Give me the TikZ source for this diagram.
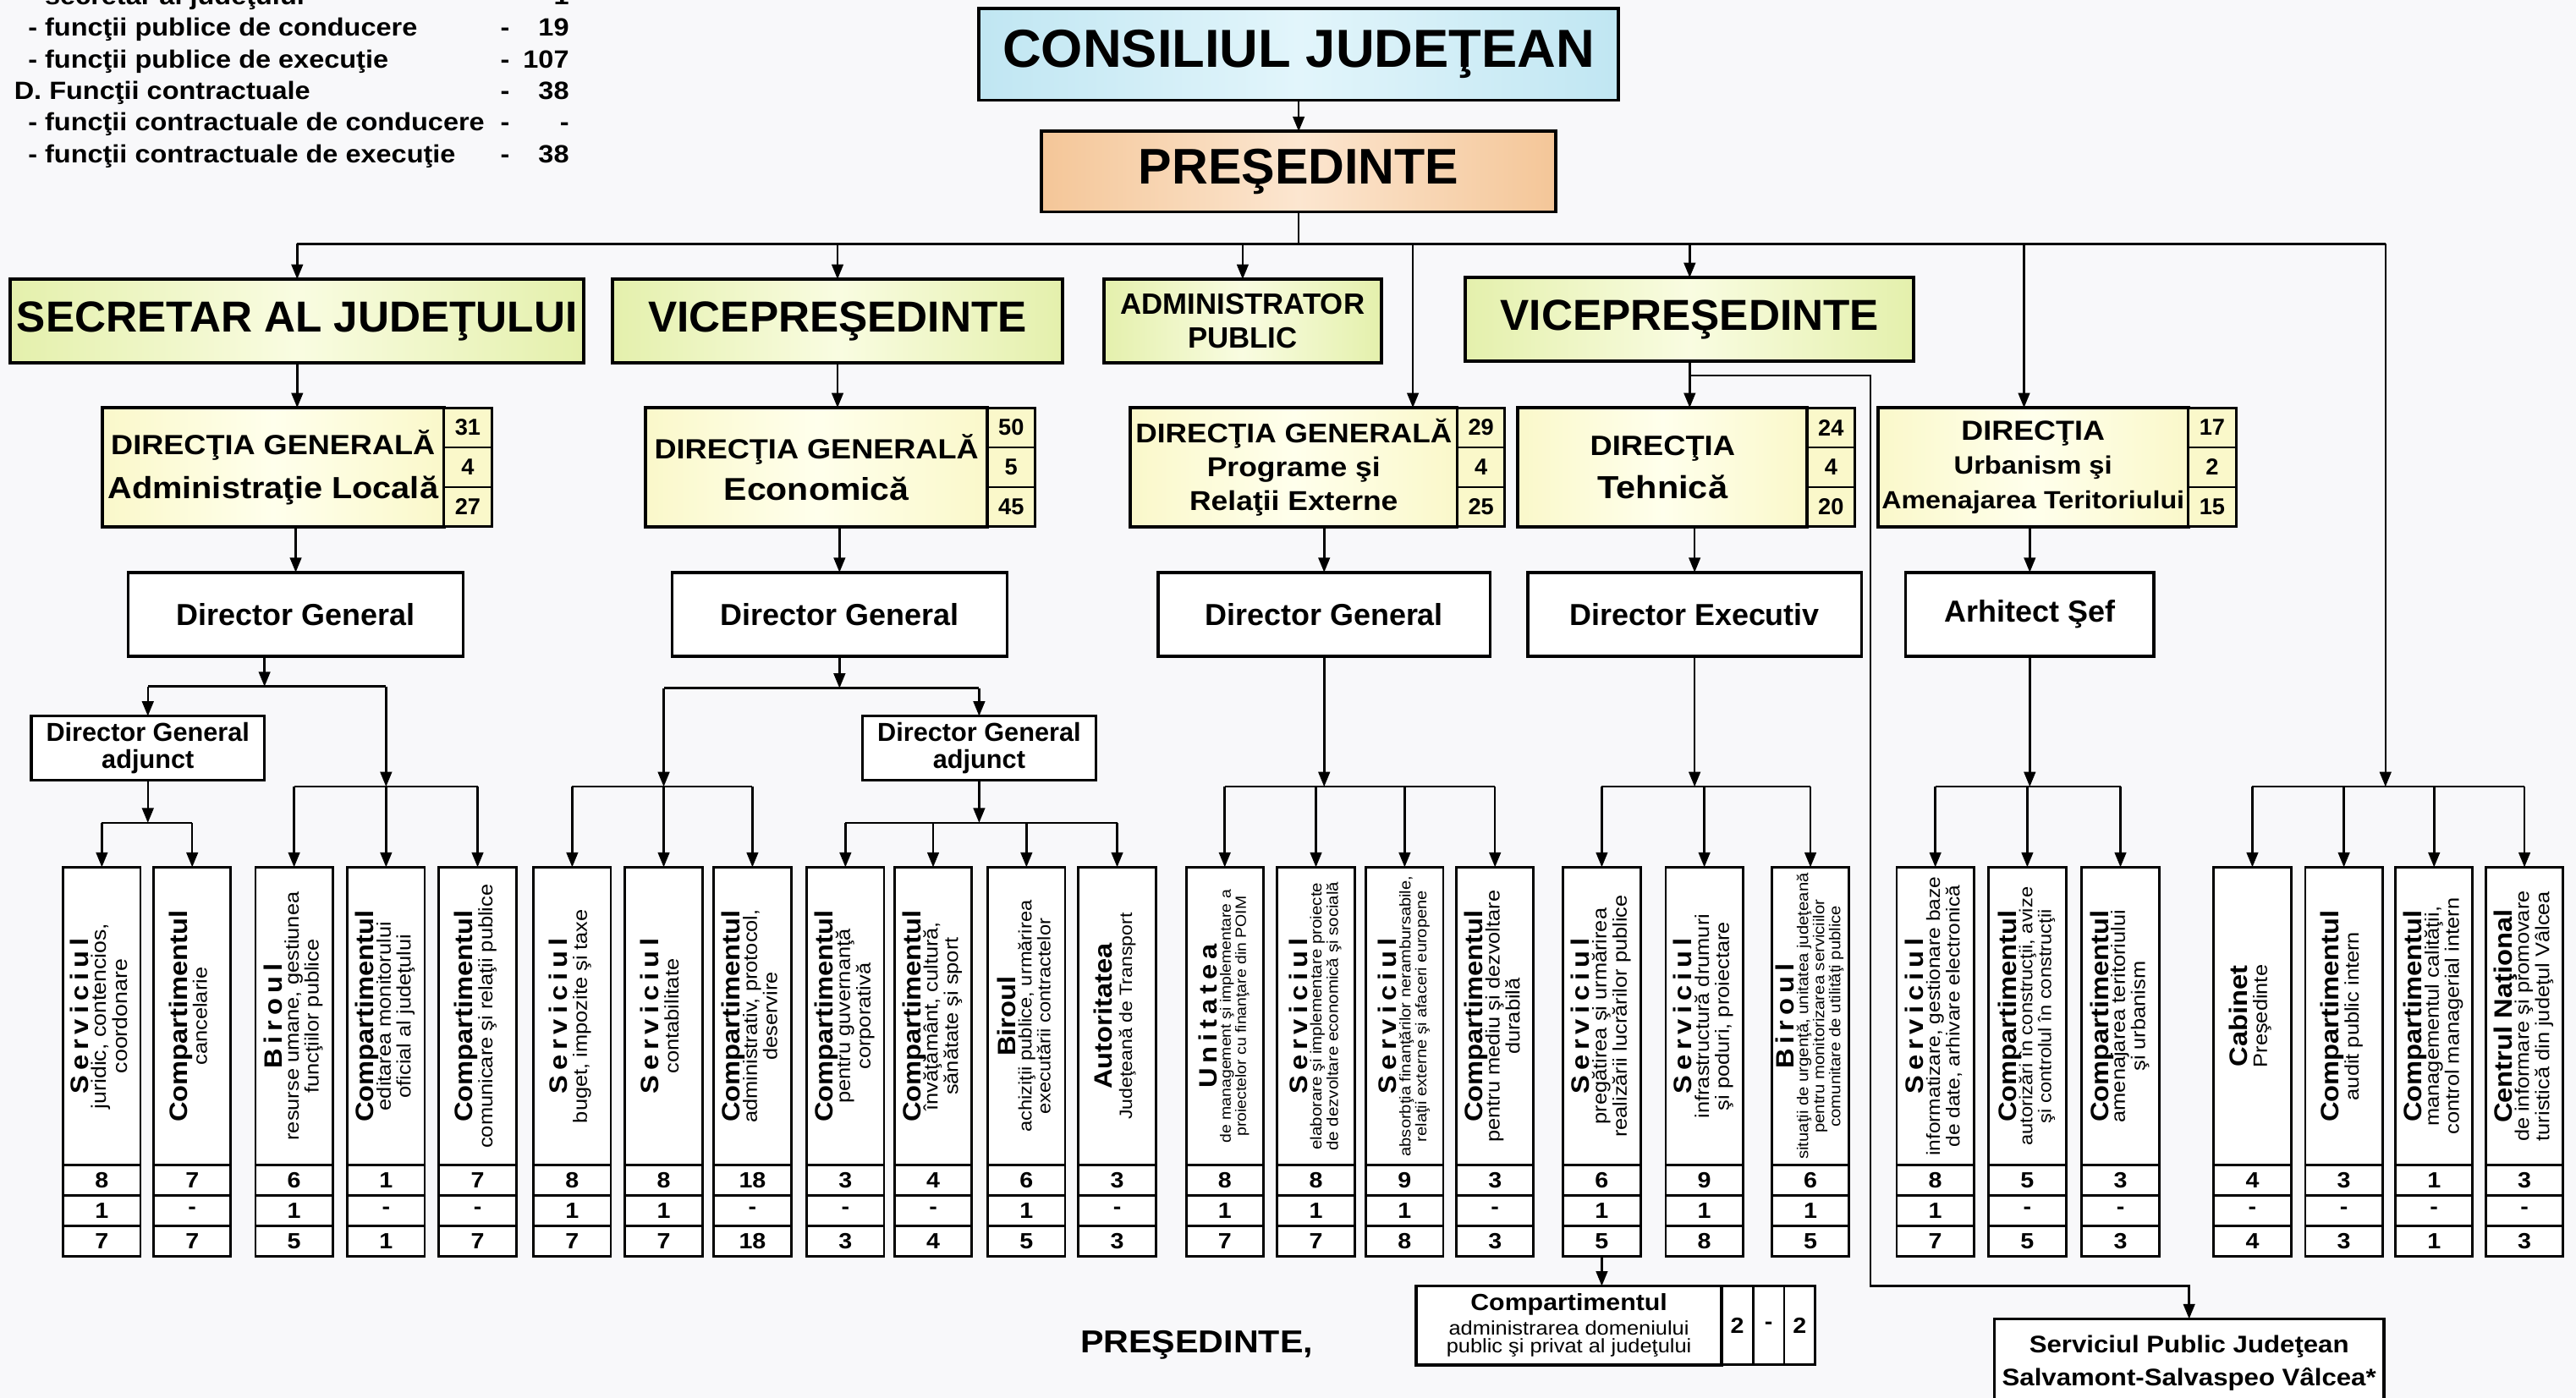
\documentclass[tikz,border=0pt]{standalone}
\usepackage{fontspec}
\setmainfont{Liberation Sans}
\newfontfamily\widefont[FakeStretch=1.1]{Liberation Sans}
\usepackage{graphicx}
\usetikzlibrary{positioning,arrows.meta}

\definecolor{paper}{RGB}{248,248,250}
\definecolor{cjblue}{RGB}{192,230,242}
\definecolor{cjlight}{RGB}{226,245,251}
\definecolor{prpeach}{RGB}{244,198,152}
\definecolor{prlight}{RGB}{252,230,208}
\definecolor{vplime}{RGB}{228,240,172}
\definecolor{vplight}{RGB}{249,252,225}
\definecolor{dgcream}{RGB}{250,248,202}
\definecolor{dglight}{RGB}{255,255,236}

\newcommand\fsz[1]{\fontsize{#1}{#1}\selectfont}
\newcommand\spc[1]{{\addfontfeature{LetterSpace=20}#1}}

\tikzset{%
	box/.style={draw, line width=2pt, outer sep=0pt, inner sep=1pt, align=center},
	box-council/.style={box, left color=cjblue, right color=cjblue, middle color=cjlight,
		minimum width=389pt, minimum height=56pt, font=\bfseries\fsz{32.6}},
	box-president/.style={box, left color=prpeach, right color=prpeach, middle color=prlight,
		minimum width=313pt, minimum height=49pt, font=\bfseries\fsz{30.5}},
	box-lead/.style={box, left color=vplime, right color=vplime, middle color=vplight,
		minimum height=51pt, font=\bfseries\fsz{26.4}},
	box-dir/.style={box, left color=dgcream, right color=dgcream, middle color=dglight,
		minimum height=72.5pt},
	dir-num/.style={box, line width=1.5pt, fill=dgcream, minimum width=29pt,
		minimum height=24.17pt, font=\bfseries\fsz{14}},
	box-head/.style={box, line width=1.8pt, fill=white, minimum height=51pt,
		font=\bfseries\fontsize{18.5}{20}\selectfont},
	box-deputy/.style={box, line width=1.8pt, fill=white, minimum width=142pt,
		minimum height=39pt, font=\bfseries\fontsize{15.8}{16.3}\selectfont},
	dept/.style={draw, line width=1.5pt, outer sep=0pt, inner sep=0pt, fill=white,
		minimum width=47pt, minimum height=181.5pt, font=\widefont\fontsize{15.3}{15.5}\selectfont},
	dept-num/.style={dept, minimum height=18.5pt, font=\widefont\bfseries\fsz{13.4}},
	sum-line/.style={inner sep=0pt, font=\widefont\bfseries\fsz{15.2}},
}

\begin{document}
\begin{tikzpicture}[x=1pt, y=-1pt, line width=1.3pt, >={Triangle[length=9pt,width=7pt]}]
\useasboundingbox (0,0) rectangle (1568,851);
\fill[paper] (0,0) rectangle (1568,851);

% staff summary
\foreach \ind/\txt/\num [count=\i from 0] in {16.5/{- secretar al judeţului}/1,
	16.5/{- funcţii publice de conducere}/19, 16.5/{- funcţii publice de execuţie}/107,
	8/{D. Funcţii contractuale}/38, 16.5/{- funcţii contractuale de conducere}/-,
	16.5/{- funcţii contractuale de execuţie}/38}
{
	\node[sum-line, anchor=base west] (sum-\i) at (\ind, 2.6+19.3*\i) {\txt};
	\node[sum-line, anchor=base west] (dash-\i) at (304, 2.6+19.3*\i) {-};
	\node[sum-line, anchor=base east] (cnt-\i) at (347, 2.6+19.3*\i) {\num};
}

% council and president
\node[box-council] (cons) at (790.5,33) {CONSILIUL JUDEŢEAN};
\node[box-president] (pres) at (790.5,104.5) {PREŞEDINTE};

% leadership
\node[box-lead, minimum width=349pt] (sec) at (180.9,195.5) {SECRETAR AL JUDEŢULUI};
\node[box-lead, minimum width=274pt] (vice1) at (509.8,195.5) {VICEPREŞEDINTE};
\node[box-lead, minimum width=169pt, font=\bfseries\fontsize{17.9}{20.3}\selectfont] (admin)
	at (756.4,195.5) {ADMINISTRATOR\\PUBLIC};
\node[box-lead, minimum width=273pt] (vice2) at (1028.5,194.5) {VICEPREŞEDINTE};

% directorates
\node[box-dir, minimum width=208pt, font=\widefont\bfseries\fontsize{17}{27}\selectfont] (dg1)
	at (166.2,284.5) {{\fsz{16.9}DIRECŢIA GENERALĂ}\\{\fsz{18.6}Administraţie Locală}};
\node[box-dir, minimum width=208pt, font=\widefont\bfseries\fontsize{17}{25}\selectfont] (dg2)
	at (497,284.5) {{\fsz{16.9}DIRECŢIA GENERALĂ}\\{\fsz{19.2}Economică}};
\node[box-dir, minimum width=199pt, font=\widefont\bfseries\fontsize{16.6}{20.5}\selectfont] (dg3)
	at (787.5,284.5) {{\fsz{16.5}DIRECŢIA GENERALĂ}\\Programe şi\\Relaţii Externe};
\node[box-dir, minimum width=176pt, font=\widefont\bfseries\fontsize{17}{26}\selectfont] (dgt)
	at (1012,284.5) {DIRECŢIA\\{\fsz{19.4}Tehnică}};
\node[box-dir, minimum width=189pt, font=\widefont\bfseries\fontsize{15.3}{21}\selectfont] (dgu)
	at (1237.5,284.5) {{\fsz{16.8}DIRECŢIA}\\Urbanism şi\\{\fsz{15.1}Amenajarea Teritoriului}};
\foreach \d/\a/\b/\c in {dg1/31/4/27, dg2/50/5/45, dg3/29/4/25, dgt/24/4/20, dgu/17/2/15}
{
	\node[dir-num, anchor=north west] (\d-a) at (\d.north east) {\a};
	\node[dir-num, below=0pt of \d-a] (\d-b) {\b};
	\node[dir-num, below=0pt of \d-b] (\d-c) {\c};
}

% heads
\node[box-head, minimum width=204pt] (dir1) at (180,374) {Director General};
\node[box-head, minimum width=204pt] (dir2) at (511,374) {Director General};
\node[box-head, minimum width=202pt] (dir3) at (806,374) {Director General};
\node[box-head, minimum width=203pt] (dir4) at (1031.5,374) {Director Executiv};
\node[box-head, minimum width=151pt] (dir5) at (1235.5,374) {Arhitect Şef};
\node[box-deputy] (dga1) at (90,455.5) {Director General\\adjunct};
\node[box-deputy] (dga2) at (596,455.5) {Director General\\adjunct};

% departments
\foreach \nm/\x/\ttl/\dsc/\sz/\na/\nb/\nc in {
	s1/62/{\spc{Serviciul}}/{juridic, contencios,\\coordonare}/12.5/8/1/7,
	s2/117/Compartimentul/cancelarie/11.9/7/-/7,
	s3/179/{\spc{Biroul}}/{resurse umane, gestiunea\\funcţiilor publice}/11.9/6/1/5,
	s4/235/Compartimentul/{editarea monitorului\\oficial al judeţului}/11.9/1/-/1,
	s5/290.7/Compartimentul/{comunicare şi relaţii publice}/11.9/7/-/7,
	s6/348.3/{\spc{Serviciul}}/{buget, impozite şi taxe}/11.9/8/1/7,
	s7/404/{\spc{Serviciul}}/contabilitate/11.9/8/1/7,
	s8/458/Compartimentul/{administrativ, protocol,\\deservire}/11.9/18/-/18,
	s9/514.6/Compartimentul/{pentru guvernanţă\\corporativă}/11.9/3/-/3,
	s10/568/Compartimentul/{învăţământ, cultură,\\sănătate şi sport}/11.9/4/-/4,
	s11/624.8/Biroul/{achiziţii publice, urmărirea\\executării contractelor}/11.1/6/1/5,
	s12/680/Autoritatea/{Judeţeană de Transport}/10.8/3/-/3,
	s13/745.5/{\spc{Unitatea}}/{de management şi implementare a\\proiectelor cu finanţare din POIM}/9.1/8/1/7,
	s14/801/{\spc{Serviciul}}/{elaborare şi implementare proiecte\\de dezvoltare economică şi socială}/9.6/8/1/7,
	s15/855/{\spc{Serviciul}}/{absorbţia finanţărilor nerambursabile,\\relaţii externe şi afaceri europene}/9.4/9/1/8,
	s16/910/Compartimentul/{pentru mediu şi dezvoltare\\durabilă}/11.9/3/-/3,
	s17/975/{\spc{Serviciul}}/{pregătirea şi urmărirea\\realizării lucrărilor publice}/11.9/6/1/5,
	s18/1037.4/{\spc{Serviciul}}/{infrastructură drumuri\\şi poduri, proiectare}/11.9/9/1/8,
	s19/1102/{\spc{Biroul}}/{situaţii de urgenţă, unitatea judeţeană\\pentru monitorizarea serviciilor\\comunitare de utilităţi publice}/9.5/6/1/5,
	s20/1178/{\spc{Serviciul}}/{informatizare, gestionare baze\\de date, arhivare electronică}/11.5/8/1/7,
	s21/1234/Compartimentul/{autorizări în construcţii, avize\\şi controlul în construcţii}/11.1/5/-/5,
	s22/1290.7/Compartimentul/{amenajarea teritoriului\\şi urbanism}/11.9/3/-/3,
	s23/1371/Cabinet/Preşedinte/11.9/4/-/4,
	s24/1426.7/Compartimentul/{audit public intern}/11.9/3/-/3,
	s25/1481.6/Compartimentul/{managementul calităţii,\\control managerial intern}/11.9/1/-/1,
	s26/1536.6/{Centrul Naţional}/{de informare şi promovare\\turistică din judeţul Vâlcea}/11.9/3/-/3}
{
	\node[dept] (\nm) at (\x,618.75) {\rotatebox{90}{\begin{tabular}{@{}c@{}}\bfseries\ttl\\[-3pt]%
		\fontsize{\sz}{\sz}\selectfont\begin{tabular}{@{}c@{}}\dsc\end{tabular}\end{tabular}}};
	\node[dept-num, below=0pt of \nm] (\nm-a) {\na};
	\node[dept-num, below=0pt of \nm-a] (\nm-b) {\nb};
	\node[dept-num, below=0pt of \nm-b] (\nm-c) {\nc};
}

% bottom boxes
\node[box, line width=1.8pt, fill=white, minimum width=186pt, minimum height=48pt,
	font=\widefont\fontsize{11.9}{11.2}\selectfont] (adm) at (955,807)
	{{\bfseries\fsz{14.2}Compartimentul}\\[2pt]administrarea domeniului\\public şi privat al judeţului};
\node[dept-num, minimum width=19pt, minimum height=48pt, anchor=north west] (adm-a) at (adm.north east) {2};
\node[dept-num, minimum width=19pt, minimum height=48pt, right=0pt of adm-a] (adm-b) {-};
\node[dept-num, minimum width=19pt, minimum height=48pt, right=0pt of adm-b] (adm-c) {2};
\node[box, line width=1.8pt, fill=white, minimum width=237pt, minimum height=54pt,
	font=\widefont\bfseries\fontsize{14.6}{20}\selectfont] (salv) at (1332.5,830)
	{Serviciul Public Judeţean\\Salvamont-Salvaspeo Vâlcea*};
\node[inner sep=0pt, anchor=west, font=\widefont\bfseries\fsz{19.3}] (sign) at (657,818.7) {PREŞEDINTE,};

% connections
\coordinate (bus0) at (0,148.5);
\coordinate (rt) at (1452,148.5);
\coordinate (to-dg3) at (860,148.5);
\coordinate (to-dgu) at (1232,148.5);
\coordinate (up) at (0,479);
\coordinate (low) at (0,501);
\coordinate (bus1) at (161,418);
\coordinate (bus2) at (0,419);
\coordinate (sv1) at (1138.6,228.6);
\coordinate (sv2) at (1138.6,783);

\draw[->] (cons.south) -- (pres.north);
\draw (pres.south) -- (pres.south |- bus0);
\draw (sec.north |- bus0) -- (rt);
\foreach \c in {sec,vice1,admin,vice2}
	\draw[->] (\c.north |- bus0) -- (\c.north);
\draw[->] (to-dg3) -- (to-dg3 |- dg3.north);
\draw[->] (to-dgu) -- (to-dgu |- dgu.north);
\draw[->] (rt) -- (rt |- up);

\draw[->] (sec.south) -- (sec.south |- dg1.north);
\draw[->] (vice1.south) -- (vice1.south |- dg2.north);
\draw[->] (vice2.south) -- (vice2.south |- dgt.north);
\foreach \d/\h in {dg1/dir1, dg2/dir2, dg3/dir3, dgt/dir4, dgu/dir5}
	\draw[->] (\h.north |- \d.south) -- (\h.north);

\draw[->] (dir1.south -| bus1) -- (bus1);
\draw (dga1.north |- bus1) -- (s4.north |- bus1);
\draw[->] (dga1.north |- bus1) -- (dga1.north);
\draw[->] (s4.north |- bus1) -- (s4.north |- up);
\draw[->] (dir2.south) -- (dir2.south |- bus2);
\draw (s7.north |- bus2) -- (dga2.north |- bus2);
\draw[->] (s7.north |- bus2) -- (s7.north |- up);
\draw[->] (dga2.north |- bus2) -- (dga2.north);

\draw[->] (dga1.south) -- (dga1.south |- low);
\draw[->] (dga2.south) -- (dga2.south |- low);
\foreach \h in {dir3,dir4,dir5}
	\draw[->] (\h.south) -- (\h.south |- up);
\foreach \first/\last/\lvl in {s1/s2/low, s3/s5/up, s6/s8/up, s9/s12/low, s13/s16/up,
	s17/s19/up, s20/s22/up, s23/s26/up}
	\draw (\first.north |- \lvl) -- (\last.north |- \lvl);
\foreach \i in {1,2,9,10,11,12}
	\draw[->] (s\i.north |- low) -- (s\i.north);
\foreach \i in {3,4,5,6,7,8,13,14,...,26}
	\draw[->] (s\i.north |- up) -- (s\i.north);

\draw[->] (vice2.south |- sv1) -- (sv1) -- (sv2) -- (salv.north |- sv2) -- (salv.north);
\draw[->] (s17-c.south) -- (s17-c.south |- adm.north);

\end{tikzpicture}
\end{document}
